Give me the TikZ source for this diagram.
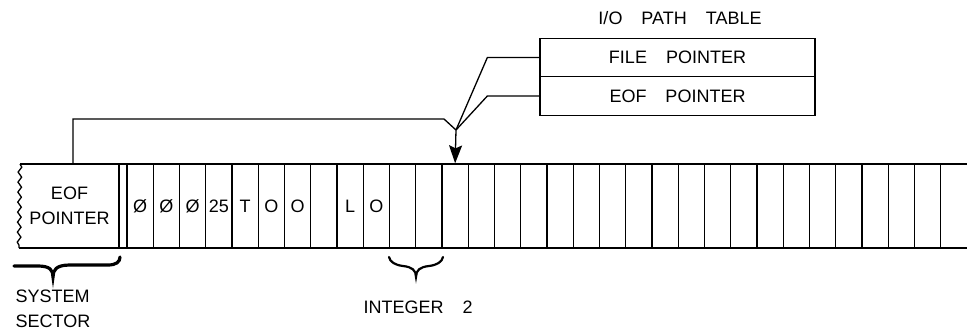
\documentclass[tikz,border=0pt]{standalone}
\usepackage{fontspec}
\setmainfont{Liberation Sans}
\usetikzlibrary{arrows.meta,decorations.pathmorphing,calc}
\newcommand\wgap{\hspace{19pt}}
\begin{document}
\begin{tikzpicture}[x=1pt,y=-1pt,line width=1.3pt,
  lbl/.style={font=\fontsize{18}{25}\selectfont, inner sep=0pt},
  cellc/.style={minimum width=26.25pt, minimum height=84pt, inner sep=0pt, font=\fontsize{18}{20}\selectfont},
  tcell/.style={draw, minimum width=275pt, minimum height=38.5pt, inner sep=0pt, font=\fontsize{18}{20}\selectfont},
  bracestyle/.style={line width=2.2pt, line cap=round, line join=miter}]
\useasboundingbox (0,0) rectangle (967,335);

% memory strip
\draw (967,164) -- (20,164);
\draw (19,248) -- (967,248);
\draw[decorate, decoration={snake, amplitude=1.8pt, segment length=10pt}] (20,164) -- (19,248);
\draw (119,164) -- (119,248);
\foreach \k in {0,...,31} \draw (127+26.25*\k,164) -- ++(0,84);

% system sector box text
\node[lbl, align=center, minimum width=99pt, minimum height=84pt] (sys) at (69.5,206) {EOF\\POINTER};

% cells
\foreach \t [count=\k from 0] in {Ø,Ø,Ø,25,T,O,O,{},L,O,{},{},{},{},{},{},{},{},{},{},{},{},{},{},{},{},{},{},{},{},{},{}}
  \node[cellc] (c\k) at (140.125+26.25*\k,206) {\t};

% I/O path table
\node[lbl] (title) at (680,18) {I/O\wgap PATH\wgap TABLE};
\node[tcell] (fp) at (677.5,57.5) {FILE\wgap POINTER};
\node[tcell] (eof) at (677.5,96) {EOF\wgap POINTER};

% connectors
\coordinate (j) at (456,130);
\draw ($(sys.north)+(3.5,0)$) |- (444,119) -- (j);
\draw (fp.west) -- ++(-52,0) -- (j);
\draw (eof.west) -- ++(-52,0) -- (j);
\draw[-{Stealth[length=18pt,width=13pt,inset=3pt]}] (j) -- (c12.north);

% braces
\draw[bracestyle, line width=3.2pt] (14,266) -- (38,266) .. controls (50,266) and (53,270) .. (53,277)
  .. controls (53,270) and (56,265) .. (70,265) -- (108,265) .. controls (116,265) and (120,262) .. (120,257);
\draw[bracestyle] (389,257) .. controls (390,262) and (395,265) .. (403,266)
  .. controls (412,267) and (416,270) .. (416,277) .. controls (416,270) and (420,267) .. (429,266)
  .. controls (437,265) and (442,262) .. (443,257);

% labels
\node[lbl, anchor=north west, align=left] (ss) at (15,289) {SYSTEM\\SECTOR};
\node[lbl, anchor=west] (int) at (363,307) {INTEGER\wgap 2};
\end{tikzpicture}
\end{document}
